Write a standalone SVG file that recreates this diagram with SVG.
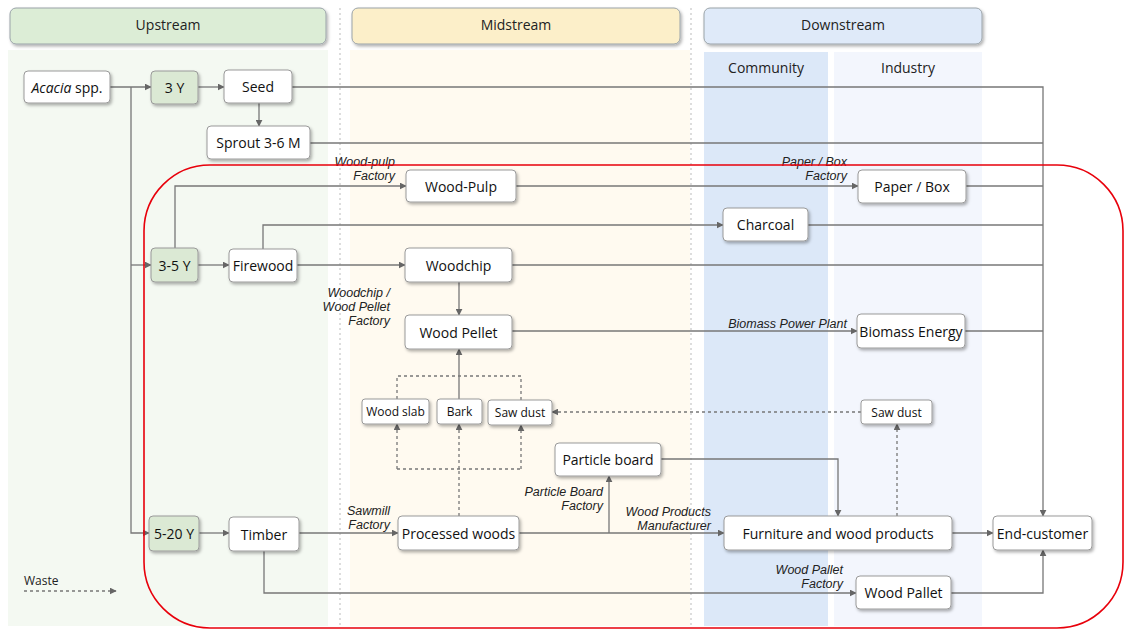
<svg xmlns="http://www.w3.org/2000/svg" width="1125" height="630" viewBox="0 0 1125 630">
<defs>
<filter id="sh" x="-10%" y="-20%" width="130%" height="160%">
<feDropShadow dx="1.5" dy="2" stdDeviation="1.5" flood-color="#000" flood-opacity="0.3"/>
</filter>
<marker id="ar" viewBox="0 0 10 10" refX="9" refY="5" markerWidth="7" markerHeight="7" markerUnits="userSpaceOnUse" orient="auto">
<path d="M0,0 L10,5 L0,10 z" fill="#666"/>
</marker>
<style>
.hd{stroke:#9aa3a8;stroke-width:1;filter:url(#sh)}
.ht{font-family:"Open Sans","DejaVu Sans",sans-serif;font-size:14px;fill:#222;text-anchor:middle}
.n rect{fill:#fff;stroke:#9a9a9a;stroke-width:1;filter:url(#sh)}
.g rect{fill:#dbe9d4}
.n text{font-family:"Open Sans","DejaVu Sans",sans-serif;font-size:14px;fill:#111;text-anchor:middle;dominant-baseline:central}
.s text{font-size:12px}
.c path{fill:none;stroke:#777;stroke-width:1.3}
.c .d{stroke-dasharray:3 3}
.lb{font-family:"Liberation Sans",Arial,sans-serif;font-size:12.5px;font-style:italic;fill:#222;text-anchor:end}
.sep{stroke:#bbb;stroke-width:1;stroke-dasharray:2 3}
</style>
</defs>
<rect width="1125" height="630" fill="#fff"/>
<!-- column backgrounds -->
<rect x="8" y="50" width="320" height="576" fill="#f4f9f2"/>
<rect x="350" y="50" width="340" height="576" fill="#fffaf0"/>
<rect x="704" y="52" width="124" height="574" fill="#dce8f8"/>
<rect x="834" y="52" width="148" height="574" fill="#f3f6fd"/>
<line class="sep" x1="340" y1="8" x2="340" y2="626"/>
<line class="sep" x1="691" y1="8" x2="691" y2="626"/>
<!-- headers -->
<g id="hdr-up"><rect class="hd" x="10" y="8" width="316" height="36" rx="6" fill="#dcedd6"/><text class="ht" x="168" y="30">Upstream</text></g>
<g id="hdr-mid"><rect class="hd" x="352" y="8" width="328" height="36" rx="6" fill="#fcefc9"/><text class="ht" x="516" y="30">Midstream</text></g>
<g id="hdr-down"><rect class="hd" x="704" y="8" width="278" height="36" rx="6" fill="#dfeaf9"/><text class="ht" x="843" y="30">Downstream</text></g>
<text class="ht" x="766" y="73">Community</text>
<text class="ht" x="908" y="73">Industry</text>
<!-- connectors -->
<g id="connectors" class="c">
<path d="M110,87 H151" marker-end="url(#ar)"/>
<path d="M131,87 V533 H149" marker-end="url(#ar)"/>
<path d="M131,265 H151" marker-end="url(#ar)"/>
<path d="M198,87 H224" marker-end="url(#ar)"/>
<path d="M259,103 V126" marker-end="url(#ar)"/>
<path d="M292,87 H1043 V516" marker-end="url(#ar)"/>
<path d="M310,143 H1043"/>
<path d="M175,248 V186 H406" marker-end="url(#ar)"/>
<path d="M516,186 H858" marker-end="url(#ar)"/>
<path d="M966,186 H1043"/>
<path d="M263,249 V225 H723" marker-end="url(#ar)"/>
<path d="M808,225 H1043"/>
<path d="M198,265 H229" marker-end="url(#ar)"/>
<path d="M297,265 H405" marker-end="url(#ar)"/>
<path d="M512,265 H1043"/>
<path d="M459,282 V315" marker-end="url(#ar)"/>
<path d="M512,331 H857" marker-end="url(#ar)"/>
<path d="M965,331 H1043"/>
<path d="M199,533 H229" marker-end="url(#ar)"/>
<path d="M299,533 H398" marker-end="url(#ar)"/>
<path d="M519,533 H724" marker-end="url(#ar)"/>
<path d="M609,533 V476" marker-end="url(#ar)"/>
<path d="M661,459 H838 V516" marker-end="url(#ar)"/>
<path d="M952,533 H993" marker-end="url(#ar)"/>
<path d="M264,551 V593 H856" marker-end="url(#ar)"/>
<path d="M951,593 H1043 V550" marker-end="url(#ar)"/>
<!-- waste -->
<path class="d" d="M459,516 V469"/>
<path class="d" d="M397,469 H521"/>
<path class="d" d="M397,469 V424" marker-end="url(#ar)"/>
<path class="d" d="M459,469 V424" marker-end="url(#ar)"/>
<path class="d" d="M521,469 V425" marker-end="url(#ar)"/>
<path class="d" d="M397,399 V376 H521 V400"/>
<path d="M459,399 V349" marker-end="url(#ar)"/>
<path class="d" d="M897,516 V424" marker-end="url(#ar)"/>
<path class="d" d="M861,412 H552" marker-end="url(#ar)"/>
<path class="d" d="M24,591 H116" marker-end="url(#ar)"/>
</g>
<!-- edge labels -->
<text class="lb" x="395" y="166">Wood-pulp<tspan x="395" dy="14">Factory</tspan></text>
<text class="lb" x="847" y="166">Paper / Box<tspan x="847" dy="14">Factory</tspan></text>
<text class="lb" x="390" y="297">Woodchip /<tspan x="390" dy="14">Wood Pellet</tspan><tspan x="390" dy="14">Factory</tspan></text>
<text class="lb" x="847" y="328">Biomass Power Plant</text>
<text class="lb" x="390" y="515">Sawmill<tspan x="390" dy="14">Factory</tspan></text>
<text class="lb" x="603" y="496">Particle Board<tspan x="603" dy="14">Factory</tspan></text>
<text class="lb" x="711" y="516">Wood Products<tspan x="711" dy="14">Manufacturer</tspan></text>
<text class="lb" x="843" y="574">Wood Pallet<tspan x="843" dy="14">Factory</tspan></text>
<text x="24" y="585" style="font-family:'Open Sans','DejaVu Sans',sans-serif;font-size:12px;fill:#222">Waste</text>
<!-- nodes -->
<g id="acacia" class="n"><rect x="24" y="71" width="86" height="32" rx="4"/><text x="67" y="87"><tspan font-style="italic">Acacia</tspan> spp.</text></g>
<g id="y3" class="n g"><rect x="151" y="71" width="47" height="33" rx="4"/><text x="174.5" y="87.5">3 Y</text></g>
<g id="seed" class="n"><rect x="224" y="70" width="68" height="33" rx="4"/><text x="258" y="86.5">Seed</text></g>
<g id="sprout" class="n"><rect x="207" y="126" width="103" height="33" rx="4"/><text x="258.5" y="142.5">Sprout 3-6 M</text></g>
<g id="woodpulp" class="n"><rect x="406" y="170" width="110" height="32" rx="4"/><text x="461" y="186">Wood-Pulp</text></g>
<g id="paperbox" class="n"><rect x="858" y="170" width="108" height="33" rx="4"/><text x="912" y="186.5">Paper / Box</text></g>
<g id="charcoal" class="n"><rect x="723" y="208" width="85" height="33" rx="4"/><text x="765.5" y="224.5">Charcoal</text></g>
<g id="y35" class="n g"><rect x="151" y="248" width="47" height="34" rx="4"/><text x="174.5" y="265">3-5 Y</text></g>
<g id="firewood" class="n"><rect x="229" y="249" width="68" height="33" rx="4"/><text x="263" y="265.5">Firewood</text></g>
<g id="woodchip" class="n"><rect x="405" y="248" width="107" height="34" rx="4"/><text x="458.5" y="265">Woodchip</text></g>
<g id="woodpellet" class="n"><rect x="405" y="315" width="107" height="34" rx="4"/><text x="458.5" y="332">Wood Pellet</text></g>
<g id="biomass" class="n"><rect x="857" y="314" width="108" height="34" rx="4"/><text x="911" y="331">Biomass Energy</text></g>
<g id="woodslab" class="n s"><rect x="362" y="399" width="67" height="25" rx="3"/><text x="395.5" y="411.5">Wood slab</text></g>
<g id="bark" class="n s"><rect x="437" y="399" width="45" height="25" rx="3"/><text x="459.5" y="411.5">Bark</text></g>
<g id="sawdust1" class="n s"><rect x="488" y="400" width="64" height="25" rx="3"/><text x="520" y="412.5">Saw dust</text></g>
<g id="sawdust2" class="n s"><rect x="861" y="400" width="71" height="24" rx="3"/><text x="896.5" y="412">Saw dust</text></g>
<g id="particle" class="n"><rect x="555" y="443" width="106" height="33" rx="4"/><text x="608" y="459.5">Particle board</text></g>
<g id="y520" class="n g"><rect x="149" y="516" width="50" height="35" rx="4"/><text x="174" y="533.5">5-20 Y</text></g>
<g id="timber" class="n"><rect x="229" y="517" width="70" height="34" rx="4"/><text x="264" y="534">Timber</text></g>
<g id="processed" class="n"><rect x="398" y="516" width="121" height="34" rx="4"/><text x="458.5" y="533">Processed woods</text></g>
<g id="furniture" class="n"><rect x="724" y="516" width="228" height="34" rx="4"/><text x="838" y="533">Furniture and wood products</text></g>
<g id="endcustomer" class="n"><rect x="993" y="516" width="99" height="34" rx="4"/><text x="1042.5" y="533">End-customer</text></g>
<g id="woodpallet" class="n"><rect x="856" y="576" width="95" height="33" rx="4"/><text x="903.5" y="592.5">Wood Pallet</text></g>
<!-- highlight -->
<rect x="144" y="165" width="979" height="463" rx="66" fill="none" stroke="#e8000b" stroke-width="1.6"/>
</svg>
